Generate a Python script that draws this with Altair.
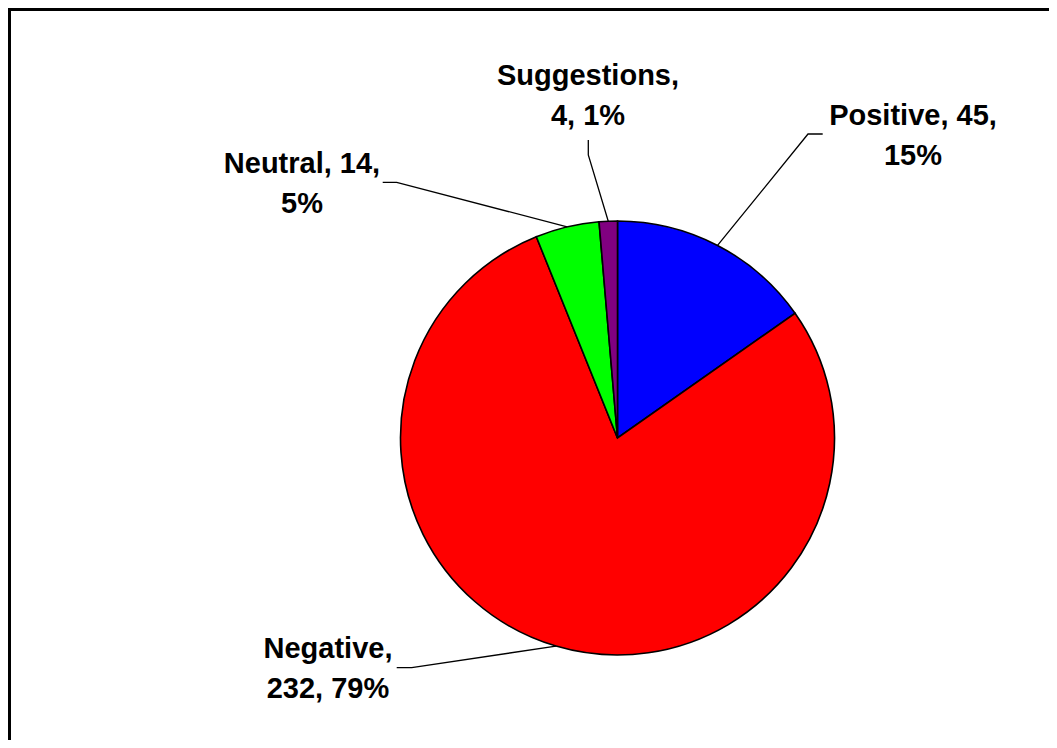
import math
import altair as alt
import pandas as pd

# ---- data ----
categories = ["Positive", "Negative", "Neutral", "Suggestions"]
counts = [45, 232, 14, 4]
colors = ["#0000FF", "#FF0000", "#00FF00", "#800080"]
# where Excel broke each label onto a second line (after which comma)
label_break = ["after_count", "after_name", "after_count", "after_name"]

# ---- layout (pixels inside the chart) ----
W, H = 1041, 732
CX, CY, R = 609.5, 430.0, 217.0
FONT = "Liberation Sans"
FS = 29
LINE_H = 40
# label anchor (centre x, first-line baseline y)
label_anchor = {
    "Positive": (905, 117),
    "Negative": (320, 650),
    "Neutral": (294, 165),
    "Suggestions": (580, 77),
}
# leader line: elbow and end points
leader_pts = {
    "Positive": [(800, 126), (814.7, 126)],
    "Negative": [(403.7, 659.7), (388.7, 659.7)],
    "Neutral": [(388.7, 174.3), (374.7, 174.3)],
    "Suggestions": [(580.3, 147), (580.3, 132)],
}

total = sum(counts)
pcts = [round(c / total * 100) for c in counts]

labels = []
for cat, n, p, br in zip(categories, counts, pcts, label_break):
    if br == "after_count":
        labels.append(f"{cat}, {n},\n{p}%")
    else:
        labels.append(f"{cat},\n{n}, {p}%")

pie_df = pd.DataFrame({
    "category": categories,
    "count": counts,
    "ord": list(range(len(categories))),
})

# leader lines start at the middle of each slice's outer edge
rows = []
cum = 0
for cat, n in zip(categories, counts):
    mid = (cum + n / 2) / total * 2 * math.pi
    cum += n
    ex = CX + R * math.sin(mid)
    ey = CY - R * math.cos(mid)
    pts = [(ex, ey)] + leader_pts[cat]
    for i, (px, py) in enumerate(pts):
        rows.append({"category": cat, "i": i, "px": px, "py": py})
lines_df = pd.DataFrame(rows)

text_df = pd.DataFrame({
    "category": categories,
    "label": labels,
    "px": [label_anchor[c][0] for c in categories],
    "py": [label_anchor[c][1] for c in categories],
})

xs = alt.Scale(domain=[0, W], range=[0, W], nice=False, zero=False)
ys = alt.Scale(domain=[0, H], range=[0, H], nice=False, zero=False)

pie = alt.Chart(pie_df).mark_arc(
    outerRadius=R, stroke="black", strokeWidth=1.6
).encode(
    theta=alt.Theta("count:Q", stack=True),
    order=alt.Order("ord:Q"),
    color=alt.Color("category:N",
                    scale=alt.Scale(domain=categories, range=colors),
                    legend=None),
    x=alt.value(CX),
    y=alt.value(CY),
)

leaders = alt.Chart(lines_df).mark_line(color="black", strokeWidth=1.3).encode(
    x=alt.X("px:Q", scale=xs, axis=None),
    y=alt.Y("py:Q", scale=ys, axis=None),
    detail="category:N",
    order="i:Q",
)

texts = alt.Chart(text_df).mark_text(
    font=FONT, fontSize=FS, fontWeight="bold", color="black",
    align="center", baseline="alphabetic", lineBreak="\n", lineHeight=LINE_H,
).encode(
    x=alt.X("px:Q", scale=xs, axis=None),
    y=alt.Y("py:Q", scale=ys, axis=None),
    text="label:N",
)

frame_top = alt.Chart(pd.DataFrame({"a": [0]})).mark_rule(
    color="black", strokeWidth=3
).encode(x=alt.value(0), x2=alt.value(W), y=alt.value(1.5))
frame_left = alt.Chart(pd.DataFrame({"a": [0]})).mark_rule(
    color="black", strokeWidth=3
).encode(x=alt.value(1.5), y=alt.value(0), y2=alt.value(H))

chart = alt.layer(pie, leaders, texts, frame_top, frame_left).properties(
    width=W, height=H, autosize=alt.AutoSizeParams(type="none"), padding=0,
    background="white",
).configure_view(stroke=None)

chart.save("out.html", embed_options={"renderer": "svg", "actions": False})
